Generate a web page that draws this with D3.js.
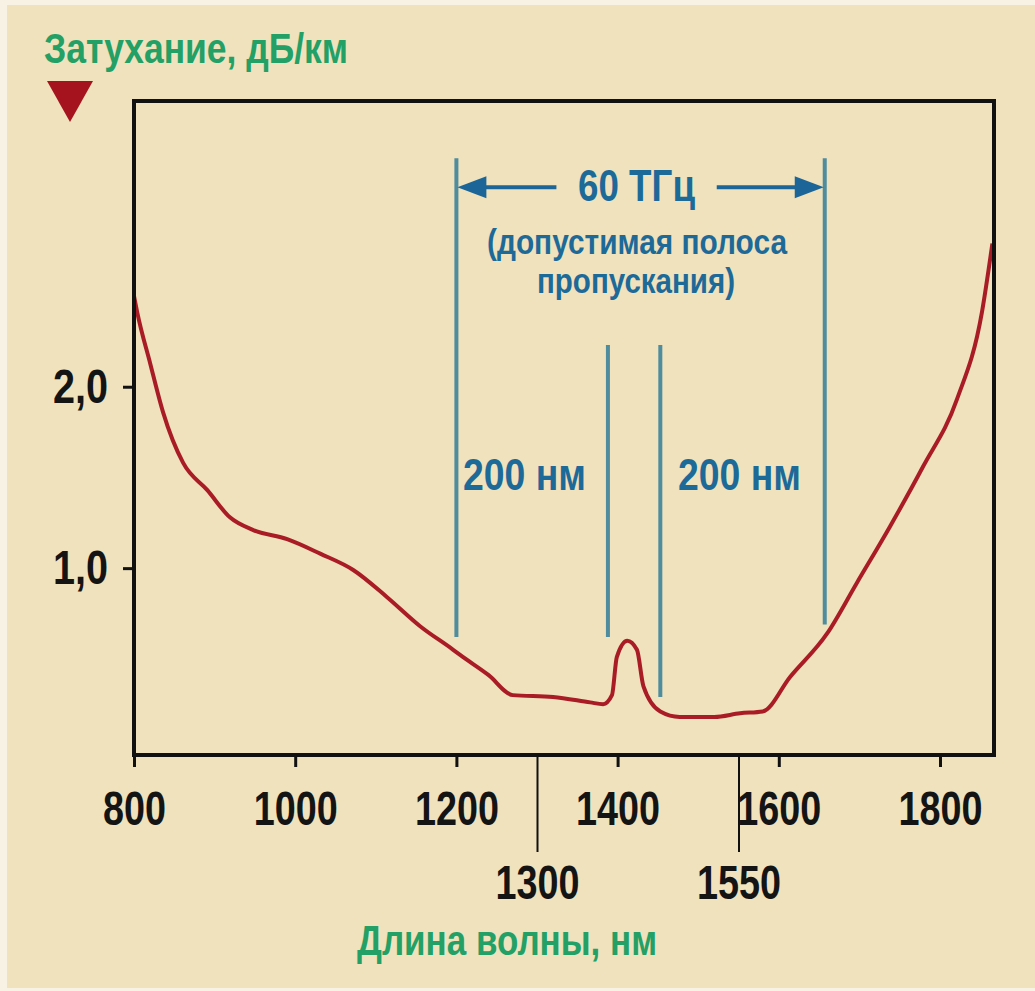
<!DOCTYPE html>
<html>
<head>
<meta charset="utf-8">
<script src="https://cdn.jsdelivr.net/npm/d3@7"></script>
<style>
    html, body { margin: 0; padding: 0; background: #f8f2e4; }
    svg { display: block; }
    .tick-label { font-family: "Liberation Sans Narrow", "Liberation Sans", sans-serif; font-weight: bold; fill: #141414; }
    .title { font-family: "Liberation Sans Narrow", "Liberation Sans", sans-serif; font-weight: bold; fill: #22a066; }
    .note { font-family: "Liberation Sans Narrow", "Liberation Sans", sans-serif; font-weight: bold; fill: #1d6a99; }
</style>
</head>
<body>
<svg id="chart"></svg>
<script>
// attenuation curve
const wavelength = [800, 804, 820, 836, 861, 891, 919, 948, 990, 1031, 1072, 1114, 1155, 1196, 1205, 1240, 1270,
    1320, 1366, 1382, 1393, 1399, 1412, 1424, 1432, 1453, 1477, 1520, 1552, 1580, 1614, 1660, 1697, 1738, 1779,
    1821, 1852, 1865];
const attenuation = [2.50, 2.41, 2.13, 1.86, 1.58, 1.43, 1.28, 1.21, 1.16, 1.08, 0.99, 0.84, 0.68, 0.55, 0.52, 0.41, 0.30,
    0.29, 0.26, 0.25, 0.30, 0.51, 0.60, 0.55, 0.35, 0.21, 0.18, 0.18, 0.20, 0.21, 0.40, 0.64, 0.92, 1.23, 1.56,
    1.93, 2.41, 2.79];

// axes
const xTicks = [800, 1000, 1200, 1400, 1600, 1800];
const xLongTicks = [1300, 1550];
const yTicks = [1, 2];

// bandwidth markers (nm, dB/km extents)
const bandEdges = [1200, 1657];
const bandEdgeBottoms = [0.62, 0.69];
const bandTop = 3.26;
const innerLines = [1388, 1453];
const innerLineBottoms = [0.62, 0.29];
const innerTop = 2.23;
const arrowLevel = 3.10;

const W = 1035, H = 991;
const svg = d3.select('#chart').attr('width', W).attr('height', H);

// background
svg.append('rect')
    .attr('x', 7).attr('y', 5)
    .attr('width', W - 7).attr('height', H - 8)
    .attr('fill', '#efe2bd');

const x = d3.scaleLinear().domain([800, 1867]).range([134, 994]);
const y = d3.scaleLinear().domain([-0.03, 3.575]).range([755, 101]);

// narrow, tall digits like the original lettering
function squeeze(sel, perChar) {
    sel.each(function() {
        const t = this.textContent;
        let w = 0;
        for (const c of t) w += (c === ',' ? perChar * 0.5 : perChar);
        d3.select(this).attr('textLength', w).attr('lengthAdjust', 'spacingAndGlyphs');
    });
}

// blue band lines
const blue = '#4e8c9e';
svg.selectAll('.band-edge')
    .data(bandEdges)
    .enter()
    .append('line')
    .attr('x1', d => x(d)).attr('x2', d => x(d))
    .attr('y1', y(bandTop))
    .attr('y2', (d, i) => y(bandEdgeBottoms[i]))
    .attr('stroke', blue).attr('stroke-width', 4);

svg.selectAll('.inner-line')
    .data(innerLines)
    .enter()
    .append('line')
    .attr('x1', d => x(d)).attr('x2', d => x(d))
    .attr('y1', y(innerTop))
    .attr('y2', (d, i) => y(innerLineBottoms[i]))
    .attr('stroke', blue).attr('stroke-width', 4);

// arrow 60 THz
const arrowColor = '#1b6598';
const ay = y(arrowLevel);
const xl = x(bandEdges[0]), xr = x(bandEdges[1]);
svg.append('line')
    .attr('x1', xl + 20).attr('x2', xl + 100).attr('y1', ay).attr('y2', ay)
    .attr('stroke', arrowColor).attr('stroke-width', 4);
svg.append('line')
    .attr('x1', xr - 108).attr('x2', xr - 20).attr('y1', ay).attr('y2', ay)
    .attr('stroke', arrowColor).attr('stroke-width', 4);
svg.append('path')
    .attr('d', `M${xl + 1},${ay} L${xl + 30},${ay - 11} L${xl + 30},${ay + 11} Z`)
    .attr('fill', arrowColor);
svg.append('path')
    .attr('d', `M${xr - 1},${ay} L${xr - 30},${ay - 11} L${xr - 30},${ay + 11} Z`)
    .attr('fill', arrowColor);

svg.append('text')
    .attr('class', 'note')
    .attr('x', 578).attr('y', ay + 14)
    .attr('font-size', 44)
    .attr('textLength', 117).attr('lengthAdjust', 'spacingAndGlyphs')
    .text('60 ТГц');
svg.append('text')
    .attr('class', 'note')
    .attr('x', 487).attr('y', 254)
    .attr('font-size', 35)
    .attr('textLength', 300).attr('lengthAdjust', 'spacingAndGlyphs')
    .text('(допустимая полоса');
svg.append('text')
    .attr('class', 'note')
    .attr('x', 537).attr('y', 293)
    .attr('font-size', 35)
    .attr('textLength', 198).attr('lengthAdjust', 'spacingAndGlyphs')
    .text('пропускания)');

svg.selectAll('.band-label')
    .data([463, 678])
    .enter()
    .append('text')
    .attr('class', 'note')
    .attr('x', d => d).attr('y', 490)
    .attr('font-size', 44)
    .attr('textLength', 123).attr('lengthAdjust', 'spacingAndGlyphs')
    .text('200 нм');

// curve
const points = wavelength.map((w, i) => [w, attenuation[i]]);
const line = d3.line()
    .x(d => x(d[0]))
    .y(d => y(d[1]))
    .curve(d3.curveMonotoneX);

svg.append('path')
    .datum(points)
    .attr('fill', 'none')
    .attr('stroke', '#a91c26')
    .attr('stroke-width', 4)
    .attr('stroke-linejoin', 'round')
    .attr('d', line);

// frame
svg.append('rect')
    .attr('x', x(800)).attr('y', y(3.575))
    .attr('width', x(1867) - x(800))
    .attr('height', y(-0.03) - y(3.575))
    .attr('fill', 'none')
    .attr('stroke', '#111')
    .attr('stroke-width', 4);

// X axis
const xAxis = svg.append('g')
    .attr('transform', `translate(0,${y(-0.03)})`)
    .call(d3.axisBottom(x).tickValues(xTicks).tickSize(12).tickPadding(23).tickFormat(d3.format('d')));
xAxis.select('.domain').remove();
xAxis.selectAll('line').attr('stroke', '#111').attr('stroke-width', 3);
xAxis.selectAll('text').attr('class', 'tick-label').attr('font-size', 49).call(squeeze, 21);

const xAxisLong = svg.append('g')
    .attr('transform', `translate(0,${y(-0.03)})`)
    .call(d3.axisBottom(x).tickValues(xLongTicks).tickSize(97).tickPadding(12).tickFormat(d3.format('d')));
xAxisLong.select('.domain').remove();
xAxisLong.selectAll('line').attr('stroke', '#111').attr('stroke-width', 2);
xAxisLong.selectAll('text').attr('class', 'tick-label').attr('font-size', 49).call(squeeze, 21);

// Y axis
const yAxis = svg.append('g')
    .attr('transform', `translate(${x(800)},0)`)
    .call(d3.axisLeft(y).tickValues(yTicks).tickSize(11).tickPadding(15).tickFormat(d => d.toFixed(1).replace('.', ',')));
yAxis.select('.domain').remove();
yAxis.selectAll('line').attr('stroke', '#111').attr('stroke-width', 3);
yAxis.selectAll('text').attr('class', 'tick-label').attr('font-size', 49).call(squeeze, 22);

// axis titles
svg.append('text')
    .attr('class', 'title')
    .attr('x', 44).attr('y', 63)
    .attr('font-size', 43)
    .attr('textLength', 304).attr('lengthAdjust', 'spacingAndGlyphs')
    .text('Затухание, дБ/км');

svg.append('path')
    .attr('d', 'M47,81 L93,81 L70,122 Z')
    .attr('fill', '#a5141e');

svg.append('text')
    .attr('class', 'title')
    .attr('x', 357).attr('y', 955)
    .attr('font-size', 42)
    .attr('textLength', 300).attr('lengthAdjust', 'spacingAndGlyphs')
    .text('Длина волны, нм');
</script>
</body>
</html>
